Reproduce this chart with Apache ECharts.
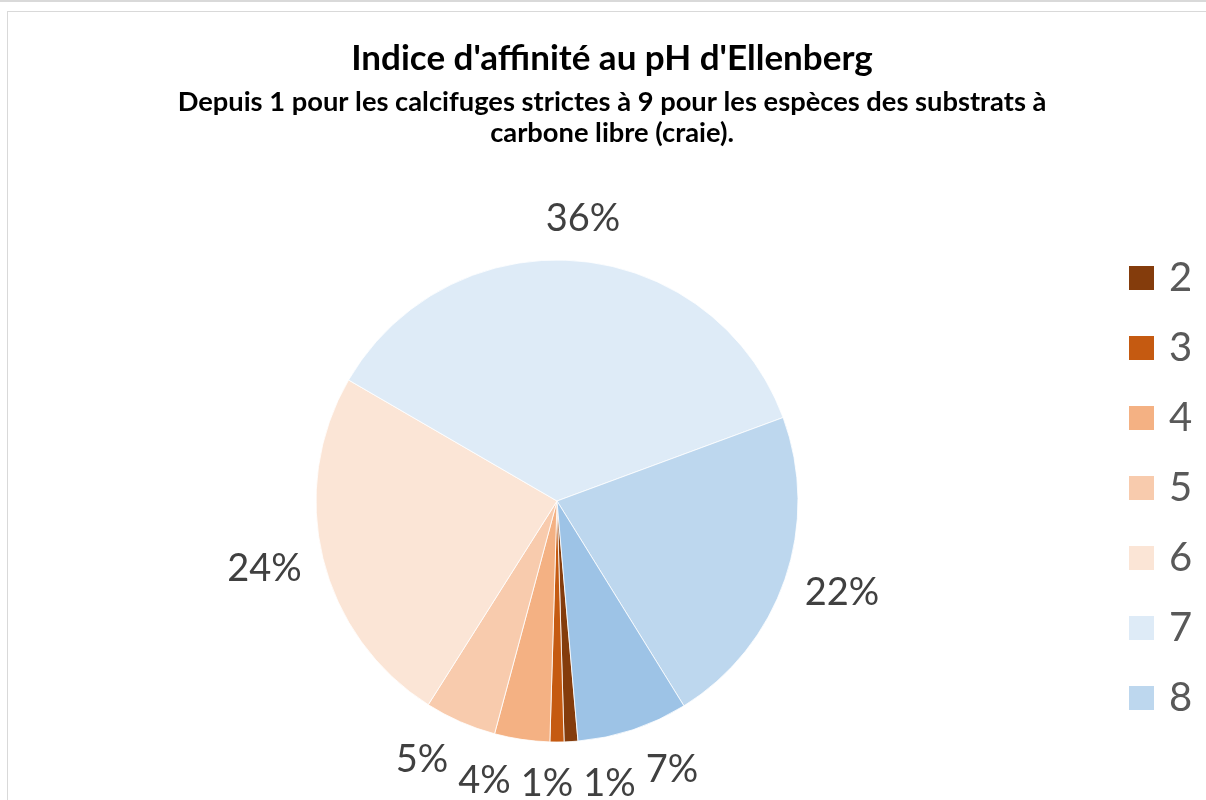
<!DOCTYPE html>
<html>
<head>
<meta charset="utf-8">
<script src="https://cdn.jsdelivr.net/npm/echarts@6/dist/echarts.min.js"></script>
<style>
  html, body { margin: 0; padding: 0; background: #fff; overflow: hidden; }
  #topline { position: absolute; left: 0; top: 0; width: 1206px; height: 2px; background: #d9d9d9; }
  #frame { position: absolute; left: 7px; top: 11px; width: 1300px; height: 900px; border: 1px solid #d9d9d9; }
  #chart { position: absolute; left: 0; top: 0; width: 1206px; height: 800px; }
</style>
</head>
<body>
<div id="topline"></div>
<div id="frame"></div>
<div id="chart"></div>
<script>
// ---- data ----
const categories = ['2', '3', '4', '5', '6', '7', '8', '9'];
const shares = [0.92, 0.94, 3.7, 4.8, 24.4, 36.0, 21.8, 7.44];
const colors = ['#843C0C', '#C55A11', '#F4B183', '#F8CBAD', '#FBE5D6', '#DEEBF7', '#BDD7EE', '#9DC3E6'];
const legendItems = ['2', '3', '4', '5', '6', '7', '8'];
const titleText = "Indice d'affinité au pH d'Ellenberg";
const subText = "Depuis 1 pour les calcifuges strictes à 9 pour les espèces des substrats à\ncarbone libre (craie).";

// ---- geometry ----
const CX = 557, CY = 501, R = 241, START = 275, GAP = 23;
const LABEL_FONT = 38, LABEL_LH = 38, LABEL_SPACE = 10;
const total = shares.reduce((a, b) => a + b, 0);
const labelText = shares.map(v => Math.round(v / total * 100) + '%');
let acc = 0;
const mids = shares.map(v => {
  const a0 = START - acc / total * 360;
  acc += v;
  const a1 = START - acc / total * 360;
  return (a0 + a1) / 2;
});

// Excel-like outside-end label placement, with balanced horizontal de-overlap at the bottom
const ctx = document.createElement('canvas').getContext('2d');
ctx.font = LABEL_FONT + 'px Lato';
const labelPos = mids.map((m, i) => {
  const a = m * Math.PI / 180;
  const ux = Math.cos(a), uy = -Math.sin(a);
  const w = ctx.measureText(labelText[i]).width;
  const h = LABEL_LH;
  return {
    i, uy, w,
    x: CX + (R + GAP) * ux + ux * w / 2,
    y: CY + (R + GAP) * uy + uy * h / 2
  };
});
(function resolveBottom() {
  const items = labelPos.filter(p => p.uy > 0.85).sort((a, b) => a.x - b.x);
  const clusters = [];
  const place = c => {
    let off = 0, sum = 0;
    c.offs = [];
    c.items.forEach(t => { c.offs.push(off); sum += (t.x - (t.w + LABEL_SPACE) / 2) - off; off += t.w + LABEL_SPACE; });
    c.left = sum / c.items.length;
    c.width = off;
  };
  items.forEach(it => {
    const c0 = { items: [it] };
    place(c0);
    clusters.push(c0);
    while (clusters.length > 1) {
      const b = clusters[clusters.length - 1], a = clusters[clusters.length - 2];
      if (a.left + a.width > b.left) {
        clusters.pop(); clusters.pop();
        const c = { items: a.items.concat(b.items) };
        place(c);
        clusters.push(c);
      } else break;
    }
  });
  clusters.forEach(c => c.items.forEach((t, k) => { t.x = c.left + c.offs[k] + (t.w + LABEL_SPACE) / 2; }));
})();

const chart = echarts.init(document.getElementById('chart'), null, { renderer: 'canvas' });
chart.setOption({
  backgroundColor: 'transparent',
  animation: false,
  title: {
    text: titleText,
    subtext: subText,
    left: 607,
    top: 33,
    textAlign: 'center',
    itemGap: 7,
    textStyle: { fontFamily: 'Lato', fontWeight: 'bold', fontSize: 35, color: '#000', lineHeight: 42 },
    subtextStyle: { fontFamily: 'Lato', fontWeight: 'bold', fontSize: 27.3, color: '#000', lineHeight: 31 }
  },
  legend: {
    orient: 'vertical',
    left: 1127,
    top: 258,
    padding: 0,
    data: legendItems,
    icon: 'rect',
    itemWidth: 27,
    itemHeight: 26,
    itemGap: 30,
    textStyle: { fontFamily: 'Lato', fontSize: 40, color: '#595959', lineHeight: 40, padding: [0, 0, 0, 9] }
  },
  series: [{
    type: 'pie',
    center: [CX, CY],
    radius: R,
    startAngle: START,
    clockwise: true,
    avoidLabelOverlap: false,
    itemStyle: { borderColor: '#fff', borderWidth: 0.8 },
    label: {
      show: true,
      position: 'outside',
      fontFamily: 'Lato',
      fontSize: LABEL_FONT,
      lineHeight: LABEL_LH,
      color: '#404040',
      formatter: p => labelText[p.dataIndex]
    },
    labelLine: { show: false, length: GAP, length2: 0 },
    labelLayout: function (p) {
      const lp = labelPos[p.dataIndex];
      return { x: lp.x, y: lp.y, align: 'center', verticalAlign: 'middle' };
    },
    data: categories.map((c, i) => ({ name: c, value: shares[i], itemStyle: { color: colors[i] } }))
  }]
});
</script>
</body>
</html>
